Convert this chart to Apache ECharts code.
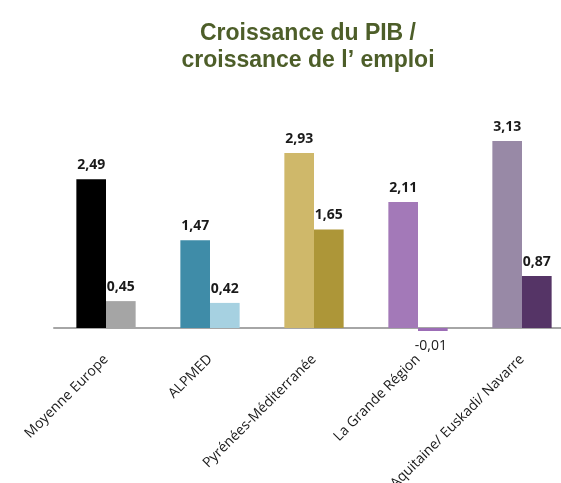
<!DOCTYPE html>
<html lang="fr">
<head>
    <meta charset="UTF-8">
    <title>Croissance du PIB / croissance de l'emploi</title>
    <script src="https://cdn.jsdelivr.net/npm/echarts@6/dist/echarts.min.js"></script>
    <style>
        body { margin: 0; background: #fff; }
        #chart { width: 561px; height: 483px; }
    </style>
</head>
<body>
<div id="chart"></div>
<script>
    var categories = ['Moyenne Europe', 'ALPMED', 'Pyrénées-Méditerranée', 'La Grande Région', 'Aquitaine/ Euskadi/ Navarre'];
    var pib = [2.49, 1.47, 2.93, 2.11, 3.13];
    var emploi = [0.45, 0.42, 1.65, -0.01, 0.87];
    var pibColors = ['#000000', '#3f8ca8', '#cfb86a', '#a379b8', '#9889a6'];
    var emploiColors = ['#a5a5a5', '#a6d1e1', '#ad9638', '#9c6db6', '#553466'];

    function fmt(p) { return p.value.toFixed(2).replace('.', ','); }

    function makeData(vals, cols) {
        return vals.map(function (v, i) {
            var d = { value: v, itemStyle: { color: cols[i] } };
            // negative value: label goes under the axis, not bold
            if (v < 0) d.label = { position: 'bottom', fontWeight: 'normal', offset: [-2, 1] };
            return d;
        });
    }

    var labelStyle = {
        show: true,
        position: 'top',
        formatter: fmt,
        fontFamily: 'Open Sans',
        fontWeight: 'bold',
        fontSize: 14,
        color: '#1a1a1a',
        distance: 7
    };

    var myChart = echarts.init(document.getElementById('chart'));
    myChart.setOption({
        animation: false,
        title: {
            text: 'Croissance du PIB /\ncroissance de l\u2019 emploi',
            left: 303,
            top: 15,
            textAlign: 'center',
            textStyle: {
                fontFamily: 'Liberation Sans',
                fontWeight: 'bold',
                fontSize: 23,
                lineHeight: 27,
                color: '#4d5e29'
            }
        },
        grid: { left: 54, right: -13, top: 89, bottom: 155, outerBoundsMode: 'none', containLabel: false },
        xAxis: {
            type: 'category',
            data: categories,
            axisLine: { lineStyle: { color: '#a6a6a6', width: 2 } },
            axisTick: { show: false },
            axisLabel: {
                rotate: 45,
                interval: 0,
                margin: 29,
                fontFamily: 'Open Sans',
                fontSize: 14,
                color: '#1a1a1a'
            }
        },
        yAxis: {
            type: 'value',
            min: 0,
            max: 4,
            show: false,
            splitLine: { show: false }
        },
        series: [
            {
                name: 'PIB',
                type: 'bar',
                clip: false,
                barGap: '0%',
                barCategoryGap: '43%',
                data: makeData(pib, pibColors),
                label: labelStyle
            },
            {
                name: 'Emploi',
                type: 'bar',
                clip: false,
                barMinHeight: 3,
                data: makeData(emploi, emploiColors),
                label: labelStyle
            }
        ]
    });
</script>
</body>
</html>
